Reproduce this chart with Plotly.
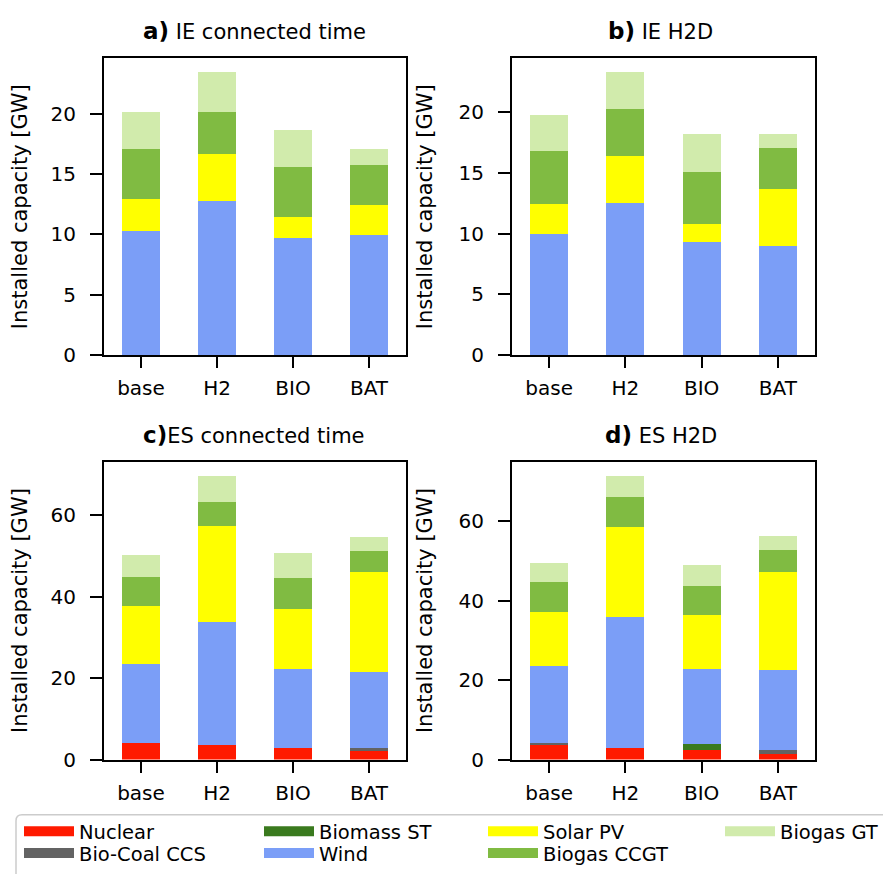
import plotly.graph_objects as go

# ---------------- data ----------------
scenarios = ["base", "H2", "BIO", "BAT"]
technologies = ["Nuclear", "Bio-Coal CCS", "Biomass ST", "Wind", "Solar PV", "Biogas CCGT", "Biogas GT"]
tech_colors = ["#ff1a00", "#636363", "#3a7a1e", "#7b9ef7", "#ffff00", "#80bb42", "#d1ebac"]

# a) IE connected time  [GW]
ie_ct_nuclear = [0.0, 0.0, 0.0, 0.0]
ie_ct_biocoal = [0.0, 0.0, 0.0, 0.0]
ie_ct_biomass = [0.0, 0.0, 0.0, 0.0]
ie_ct_wind = [10.26, 12.79, 9.69, 9.93]
ie_ct_solar = [2.69, 3.84, 1.71, 2.53]
ie_ct_ccgt = [4.08, 3.51, 4.16, 3.27]
ie_ct_gt = [3.11, 3.26, 3.11, 1.30]

# b) IE H2D
ie_h2d_nuclear = [0.0, 0.0, 0.0, 0.0]
ie_h2d_biocoal = [0.0, 0.0, 0.0, 0.0]
ie_h2d_biomass = [0.0, 0.0, 0.0, 0.0]
ie_h2d_wind = [9.95, 12.54, 9.30, 8.97]
ie_h2d_solar = [2.51, 3.81, 1.46, 4.71]
ie_h2d_ccgt = [4.30, 3.89, 4.29, 3.32]
ie_h2d_gt = [3.00, 3.00, 3.09, 1.14]

# c) ES connected time
es_ct_nuclear = [4.14, 3.57, 2.84, 2.11]
es_ct_biocoal = [0.0, 0.0, 0.0, 0.73]
es_ct_biomass = [0.0, 0.0, 0.0, 0.0]
es_ct_wind = [19.37, 30.16, 19.46, 18.73]
es_ct_solar = [14.35, 23.59, 14.59, 24.57]
es_ct_ccgt = [7.06, 6.09, 7.79, 5.10]
es_ct_gt = [5.35, 6.32, 6.08, 3.41]

# d) ES H2D
es_h2d_nuclear = [3.66, 2.91, 2.49, 1.50]
es_h2d_biocoal = [0.58, 0.0, 0.0, 0.91]
es_h2d_biomass = [0.0, 0.0, 1.42, 0.0]
es_h2d_wind = [19.36, 32.91, 18.94, 20.19]
es_h2d_solar = [13.47, 22.69, 13.47, 24.69]
es_h2d_ccgt = [7.73, 7.73, 7.48, 5.48]
es_h2d_gt = [4.73, 5.23, 5.23, 3.49]

panel_labels = ["a)", "b)", "c)", "d)"]
panel_titles = [" IE connected time", " IE H2D", "ES connected time", " ES H2D"]
y_tick_steps = [5, 5, 20, 20]

panels = [
    [ie_ct_nuclear, ie_ct_biocoal, ie_ct_biomass, ie_ct_wind, ie_ct_solar, ie_ct_ccgt, ie_ct_gt],
    [ie_h2d_nuclear, ie_h2d_biocoal, ie_h2d_biomass, ie_h2d_wind, ie_h2d_solar, ie_h2d_ccgt, ie_h2d_gt],
    [es_ct_nuclear, es_ct_biocoal, es_ct_biomass, es_ct_wind, es_ct_solar, es_ct_ccgt, es_ct_gt],
    [es_h2d_nuclear, es_h2d_biocoal, es_h2d_biomass, es_h2d_wind, es_h2d_solar, es_h2d_ccgt, es_h2d_gt],
]

# ---------------- layout helpers ----------------
W, H = 891, 874
FONT = "DejaVu Sans"


def px(x):
    return x / W


def py(y):
    return 1 - y / H


# plot area boxes in pixels (left, right, top, bottom)
boxes = [
    (96, 398, 51, 352),
    (504, 807, 51, 352),
    (96, 398, 460, 762),
    (504, 807, 460, 762),
]
title_pos = [(246, 23), (652, 23), (246, 433), (653, 433)]

fig = go.Figure()

for i, series in enumerate(panels):
    n = "" if i == 0 else str(i + 1)
    for tech, color, vals in zip(technologies, tech_colors, series):
        fig.add_trace(go.Bar(
            x=scenarios, y=vals, name=tech,
            marker=dict(color=color, line=dict(width=0)),
            width=0.5, showlegend=False,
            xaxis="x" + n, yaxis="y" + n,
        ))

# legend-only entries (matplotlib-like wide swatches), one legend per entry
legend_slots = [
    (11, 835), (11, 857),     # Nuclear, Bio-Coal CCS
    (251, 835), (251, 857),   # Biomass ST, Wind
    (475, 835), (475, 857),   # Solar PV, Biogas CCGT
    (712, 835),               # Biogas GT
]
for k, (tech, color) in enumerate(zip(technologies, tech_colors)):
    lname = "legend" if k == 0 else "legend%d" % (k + 1)
    fig.add_trace(go.Scatter(
        x=[None], y=[None], mode="lines", name=tech,
        line=dict(color=color, width=17),
        legend=lname, showlegend=True, hoverinfo="skip",
    ))

layout = dict(
    width=W, height=H,
    margin=dict(l=0, r=0, t=0, b=0),
    paper_bgcolor="white", plot_bgcolor="white",
    barmode="stack",
    font=dict(family=FONT, size=20, color="black"),
    showlegend=True,
)

for i, (l, r, t, b) in enumerate(boxes):
    n = "" if i == 0 else str(i + 1)
    totals = [sum(v[j] for v in panels[i]) for j in range(len(scenarios))]
    ymax = 1.05 * max(totals)
    layout["xaxis" + n] = dict(
        domain=[px(l), px(r)], anchor="y" + n,
        type="category", range=[-0.487, 3.487],
        showline=True, linecolor="black", linewidth=2, mirror=True,
        ticks="outside", ticklen=11, tickwidth=1.6, tickcolor="black",
        ticklabelstandoff=3,
        showgrid=False, zeroline=False,
        tickfont=dict(family=FONT, size=20),
    )
    layout["yaxis" + n] = dict(
        domain=[py(b), py(t)], anchor="x" + n,
        range=[0, ymax], dtick=y_tick_steps[i], tick0=0,
        showline=True, linecolor="black", linewidth=2, mirror=True,
        ticks="outside", ticklen=12, tickwidth=1.6, tickcolor="black",
        ticklabelstandoff=10,
        showgrid=False, zeroline=False,
        tickfont=dict(family=FONT, size=20),
        title=dict(text="Installed capacity [GW]", font=dict(family=FONT, size=21), standoff=20),
    )

for k, (x0, yc) in enumerate(legend_slots):
    lname = "legend" if k == 0 else "legend%d" % (k + 1)
    layout[lname] = dict(
        x=px(x0), y=py(yc), xanchor="left", yanchor="middle",
        orientation="v", bgcolor="rgba(0,0,0,0)", borderwidth=0,
        itemwidth=50, font=dict(family=FONT, size=19.5, color="black"),
        tracegroupgap=0,
    )

fig.update_layout(**layout)

for (lab, ttl, (tx, ty)) in zip(panel_labels, panel_titles, title_pos):
    fig.add_annotation(
        x=px(tx), y=py(ty), xref="paper", yref="paper",
        xanchor="center", yanchor="middle", showarrow=False,
        text="<span style='font-size:23px'><b>%s</b></span>%s" % (lab, ttl),
        font=dict(family=FONT, size=21, color="black"),
    )

# legend frame (rounded corner, extends past the figure edge like the original)
x0, y0, x1, y1, rr = 8, 818, 905, 890, 6
fig.add_shape(type="path", xref="paper", yref="paper",
              path=("M %f,%f L %f,%f L %f,%f L %f,%f L %f,%f Q %f,%f %f,%f Z" % (
                  px(x0 + rr), py(y0), px(x1), py(y0), px(x1), py(y1),
                  px(x0), py(y1), px(x0), py(y0 + rr), px(x0), py(y0), px(x0 + rr), py(y0))),
              line=dict(color="#cccccc", width=1.5), fillcolor="rgba(0,0,0,0)", layer="below")

fig.write_html("out.html")
